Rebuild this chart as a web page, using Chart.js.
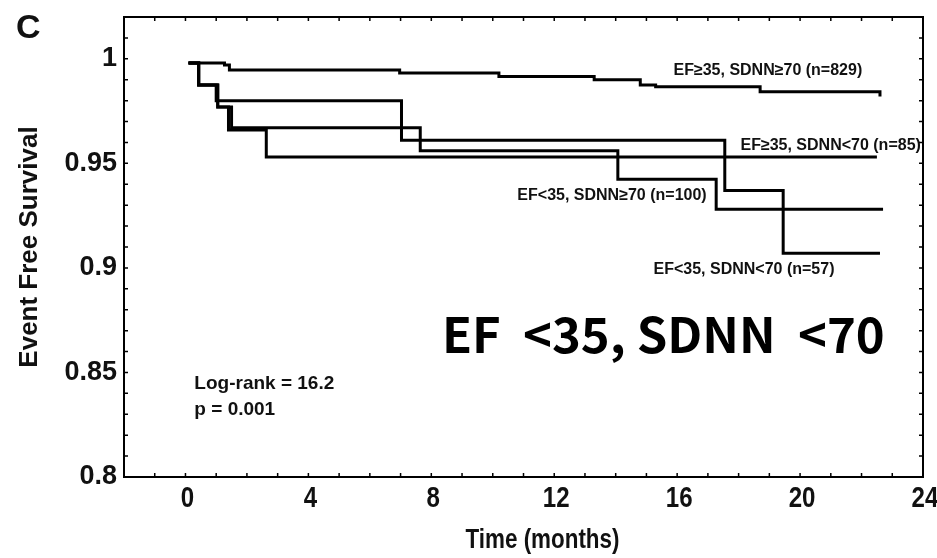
<!DOCTYPE html>
<html>
<head>
<meta charset="utf-8">
<script src="https://cdn.jsdelivr.net/npm/chart.js@4/dist/chart.umd.min.js"></script>
<style>
	html, body { margin: 0; padding: 0; background: #fff; }
	#wrap { width: 937px; height: 558px; }
</style>
</head>
<body>
<div id="wrap"><canvas id="survivalChart" width="937" height="558"></canvas></div>
<script>
// Kaplan-Meier steps: time of each drop (months) and survival after it.
const timeHighEfHighSdnn = [0.1, 1.27, 1.43, 6.97, 10.2, 13.3, 14.8, 15.3, 18.7, 22.6];
const survHighEfHighSdnn = [0.998, 0.997, 0.9946, 0.9932, 0.9915, 0.99, 0.9875, 0.9867, 0.9843, 0.982];

const timeHighEfLowSdnn = [0.1, 0.43, 1.05, 1.4, 2.63, 22.5];
const survHighEfLowSdnn = [0.998, 0.9875, 0.977, 0.966, 0.953, 0.953];

const timeLowEfHighSdnn = [0.1, 0.43, 1.05, 1.5, 7.64, 14.07, 17.27, 22.7];
const survLowEfHighSdnn = [0.998, 0.9875, 0.977, 0.967, 0.956, 0.9424, 0.928, 0.928];

const timeLowEfLowSdnn = [0.1, 0.43, 1.0, 7.03, 17.55, 19.45, 22.6];
const survLowEfLowSdnn = [0.998, 0.9875, 0.98, 0.961, 0.937, 0.907, 0.907];

const groupNames = [
	"EF\u226535, SDNN\u226570 (n=829)",
	"EF\u226535, SDNN<70 (n=85)",
	"EF<35, SDNN\u226570 (n=100)",
	"EF<35, SDNN<70 (n=57)"
];

const xLabelled = [0, 4, 8, 12, 16, 20, 24];
const yLabelled = [0.8, 0.85, 0.9, 0.95, 1];

const statLines = ["Log-rank = 16.2", "p = 0.001"];

const BOLD = '"Liberation Sans", Arial, sans-serif';

function steps(times, surv) {
	return times.map((t, i) => ({x: t, y: surv[i]}));
}

function curve(label, times, surv) {
	return {
		label,
		data: steps(times, surv),
		borderColor: "#000",
		borderWidth: 3,
		pointRadius: 0,
		stepped: true,
		fill: false
	};
}

// condensed bold text, as the time axis uses
function narrowText(ctx, text, cx, cy, size) {
	ctx.save();
	ctx.font = `bold ${size}px ${BOLD}`;
	ctx.translate(cx, cy);
	ctx.scale(0.83, 1);
	ctx.fillText(text, 0, 0);
	ctx.restore();
}

// frame, inward tick marks, time axis text and the notes inside the plot
const decorations = {
	id: "decorations",
	afterDraw(chart) {
		const {ctx, chartArea: a, scales: {x, y}} = chart;
		ctx.save();
		ctx.strokeStyle = "#000";
		ctx.lineWidth = 1.5;
		ctx.beginPath();
		x.ticks.forEach(t => {
			const px = x.getPixelForValue(t.value);
			ctx.moveTo(px, a.bottom); ctx.lineTo(px, a.bottom - 4);
			ctx.moveTo(px, a.top); ctx.lineTo(px, a.top + 4);
		});
		y.ticks.forEach(t => {
			const py = y.getPixelForValue(t.value);
			ctx.moveTo(a.left, py); ctx.lineTo(a.left + 4, py);
			ctx.moveTo(a.right, py); ctx.lineTo(a.right - 4, py);
		});
		ctx.stroke();
		ctx.lineWidth = 2;
		ctx.strokeRect(a.left, a.top, a.right - a.left, a.bottom - a.top);

		ctx.fillStyle = "#111";
		ctx.textBaseline = "middle";
		ctx.textAlign = "center";

		xLabelled.forEach(v => narrowText(ctx, String(v), x.getPixelForValue(v) + 2, a.bottom + 22, 29));
		narrowText(ctx, "Time (months)", (a.left + a.right) / 2 + 19, a.bottom + 64, 27);

		ctx.textAlign = "left";

		// panel letter
		ctx.font = "bold 34px " + BOLD;
		ctx.fillText("C", a.left - 108, a.top + 12);

		// group labels beside their curves
		const anchors = [[15.88, 0.9946], [18.06, 0.9583], [10.8, 0.9344], [15.23, 0.899]];
		ctx.font = "bold 16px " + BOLD;
		groupNames.forEach((name, i) => {
			ctx.fillText(name, x.getPixelForValue(anchors[i][0]), y.getPixelForValue(anchors[i][1]));
		});

		ctx.font = "bold 19px " + BOLD;
		ctx.fillText(statLines[0], x.getPixelForValue(0.29), y.getPixelForValue(0.8445));
		ctx.fillText(statLines[1], x.getPixelForValue(0.29), y.getPixelForValue(0.832));

		ctx.textAlign = "center";
		ctx.fillStyle = "#000";
		ctx.font = 'bold 49px "Noto Sans CJK KR", "Noto Sans", sans-serif';
		ctx.fillText("EF  <35, SDNN  <70", x.getPixelForValue(15.55), y.getPixelForValue(0.868));
		ctx.restore();
	}
};

const ctx = document.getElementById("survivalChart").getContext("2d");
new Chart(ctx, {
	type: "line",
	data: {
		datasets: [
			curve(groupNames[0], timeHighEfHighSdnn, survHighEfHighSdnn),
			curve(groupNames[1], timeHighEfLowSdnn, survHighEfLowSdnn),
			curve(groupNames[2], timeLowEfHighSdnn, survLowEfHighSdnn),
			curve(groupNames[3], timeLowEfLowSdnn, survLowEfLowSdnn)
		]
	},
	options: {
		responsive: false,
		animation: false,
		layout: {padding: {top: 17, right: 14, left: 0, bottom: 0}},
		plugins: {
			legend: {display: false},
			tooltip: {enabled: false}
		},
		scales: {
			x: {
				type: "linear",
				min: -2,
				max: 24,
				grid: {display: false, drawTicks: false},
				border: {display: false},
				afterFit: s => {
					s.height = 81;
					s.paddingLeft = 0;
					s.paddingRight = 0;
				},
				ticks: {
					stepSize: 1,
					autoSkip: false,
					maxRotation: 0,
					callback: () => ""
				}
			},
			y: {
				min: 0.8,
				max: 1.02,
				grid: {display: false, drawTicks: false},
				border: {display: false},
				afterFit: s => {
					s.width = 124;
					s.paddingTop = 0;
					s.paddingBottom = 0;
				},
				ticks: {
					stepSize: 0.01,
					autoSkip: false,
					padding: 7,
					color: "#111",
					font: {family: BOLD, size: 27, weight: "bold"},
					callback: v => {
						const r = Math.round(v * 100) / 100;
						return yLabelled.some(l => Math.abs(l - r) < 1e-9) ? String(r) : "";
					}
				},
				title: {
					display: true,
					text: "Event Free Survival",
					color: "#111",
					padding: {top: 14, bottom: 0},
					font: {family: BOLD, size: 26, weight: "bold"}
				}
			}
		}
	},
	plugins: [decorations]
});
</script>
</body>
</html>
